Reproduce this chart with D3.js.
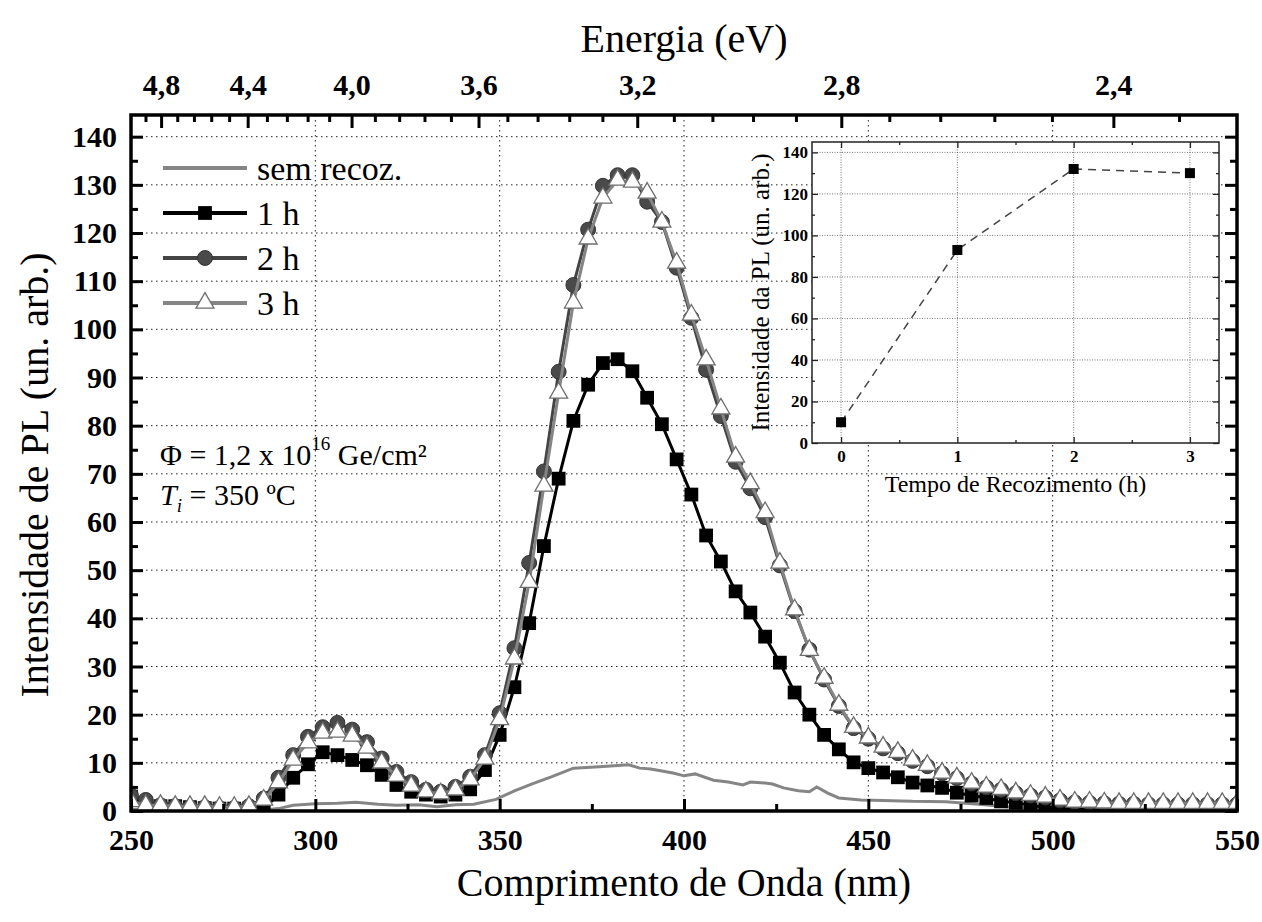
<!DOCTYPE html>
<html>
<head>
<meta charset="utf-8">
<script src="https://cdn.jsdelivr.net/npm/d3@7"></script>
<style>
body { margin: 0; background: #fff; }
text { font-family: "Liberation Serif", "Times New Roman", serif; }
</style>
</head>
<body>
<div id="viz"></div>
<script>
//DATA: wavelengths (nm) of the measured points, every 4 nm
const wavelength = [250, 254, 258, 262, 266, 270, 274, 278, 282, 286, 290, 294, 298, 302, 306, 310, 314, 318, 322, 326,
  330, 334, 338, 342, 346, 350, 354, 358, 362, 366, 370, 374, 378, 382, 386, 390, 394, 398, 402, 406,
  410, 414, 418, 422, 426, 430, 434, 438, 442, 446, 450, 454, 458, 462, 466, 470, 474, 478, 482, 486,
  490, 494, 498, 502, 506, 510, 514, 518, 522, 526, 530, 534, 538, 542, 546, 550];

//PL intensity (un. arb.) for each annealing time
const pl1h = [3.0, 1.5, 1.0, 1.0, 0.8, 0.6, 0.5, 0.5, 0.5, 0.5, 3.4, 6.9, 9.7, 12.2, 11.6, 10.6, 9.5, 7.5, 5.4, 4.0,
  3.4, 3.0, 3.4, 4.5, 8.5, 15.8, 25.7, 39, 55, 69, 81, 88.5, 93, 93.8, 91.3, 85.8, 80.3, 73, 65.7, 57.2,
  51.8, 45.6, 41.2, 36.2, 30.8, 24.6, 20, 15.8, 12.8, 10.1, 8.9, 8.0, 7.0, 5.9, 5.3, 4.8, 3.8, 3.2, 2.7, 2.0,
  1.7, 1.2, 0.8, 0.6, 0.4, 0.3, 0.2, 0.2, 0.1, 0.1, 0.1, 0.1, 0.1, 0.1, 0.1, 0.1];
const pl2h = [3.2, 2.3, 1.2, 1.0, 0.8, 0.8, 0.6, 0.6, 1.0, 2.6, 6.9, 11.6, 15.4, 17.4, 18.3, 16.9, 14.3, 10.9, 8.1, 6.0,
  4.4, 4.0, 5.0, 7.1, 11.6, 20.3, 33.8, 51.5, 70.5, 91.2, 109.2, 120.7, 129.8, 132, 132, 126.5, 122.3, 112.8, 102.4, 91.6,
  82, 72.5, 67, 61, 51, 41.5, 33.5, 27.3, 21.8, 17.2, 15, 13, 12, 10.4, 9.3, 7.8, 6.8, 5.7, 4.9, 4.4,
  3.7, 3.2, 2.8, 2.2, 1.8, 1.7, 1.6, 1.5, 1.5, 1.4, 1.4, 1.4, 1.4, 1.4, 1.4, 1.4];
const pl3h = [2.0, 1.2, 1.2, 1.0, 1.0, 1.0, 0.8, 0.8, 1.0, 2.3, 5.9, 10.6, 14.2, 16.2, 16.4, 15.6, 13.1, 10.0, 7.3, 5.2,
  4.0, 3.6, 4.4, 6.5, 10.8, 19, 31.6, 47.5, 67.5, 86.8, 105.5, 118.8, 127.3, 131, 130.6, 128.3, 122.3, 113.8, 103, 93.7,
  83.5, 73.5, 68, 62, 51.5, 41.8, 33.4, 27.6, 22, 17.4, 15.2, 13.3, 12.2, 10.6, 9.5, 7.9, 6.9, 5.8, 5.0, 4.5,
  3.8, 3.3, 2.9, 2.3, 1.9, 1.9, 1.7, 1.6, 1.6, 1.6, 1.6, 1.6, 1.6, 1.6, 1.6, 1.6];

//"sem recoz." (not annealed) is a plain noisy line, read at its own points
const semWavelength = [250, 286, 290, 294, 300, 306, 311, 317, 322, 328, 333, 338, 343, 349, 354, 359, 364, 370, 377, 385,
  388, 391, 397, 400, 403, 408, 412, 416, 418, 422, 424, 427, 431, 434, 436, 439, 442, 448, 454, 459,
  462, 471, 480, 489, 498, 510, 550];
const semRecoz = [0.3, 0.2, 0.5, 1.2, 1.5, 1.6, 1.8, 1.4, 1.2, 1.3, 0.9, 1.3, 1.4, 2.4, 4.2, 5.7, 7.1, 8.9, 9.2, 9.6,
  8.9, 8.7, 7.9, 7.3, 7.7, 6.4, 6.0, 5.4, 6.0, 5.8, 5.6, 4.8, 4.2, 4.0, 5.0, 3.7, 2.7, 2.3, 2.2, 2.1,
  2.0, 1.9, 1.4, 0.8, 0.4, 0.2, 0.2];

//Inset: peak intensity vs annealing time
const annealTime = [0, 1, 2, 3];
const peakIntensity = [10, 93, 132, 130];

//Tick values
const xTicks = [250, 300, 350, 400, 450, 500, 550];
const xMinorTicks = [275, 325, 375, 425, 475, 525];
const yTicks = [0, 10, 20, 30, 40, 50, 60, 70, 80, 90, 100, 110, 120, 130, 140];
const yMinorTicks = [5, 15, 25, 35, 45, 55, 65, 75, 85, 95, 105, 115, 125, 135];
const energyTicks = [4.8, 4.4, 4.0, 3.6, 3.2, 2.8, 2.4];
const energyMinorTicks = [4.88, 4.72, 4.64, 4.56, 4.48, 4.32, 4.24, 4.16, 4.08, 3.92, 3.84, 3.76, 3.68,
  3.52, 3.44, 3.36, 3.28, 3.12, 3.04, 2.96, 2.88, 2.72, 2.64, 2.56, 2.48, 2.32];
const insetXTicks = [0, 1, 2, 3];
const insetXMinorTicks = [0.5, 1.5, 2.5];
const insetYTicks = [0, 20, 40, 60, 80, 100, 120, 140];
const insetYMinorTicks = [10, 30, 50, 70, 90, 110, 130];

//Legend names
const seriesNames = ["sem recoz.", "1 h", "2 h", "3 h"];

//CANVAS
const W = 1262, H = 922;
const svg = d3.select("#viz").append("svg")
  .attr("width", W)
  .attr("height", H);

//plot frame edges (named pl* so they don't clash with window.top)
const plLeft = 131, plRight = 1237, plTop = 115, plBottom = 811;

const x = d3.scaleLinear().domain([250, 550]).range([plLeft, plRight]);
const y = d3.scaleLinear().domain([0, 144.5]).range([plBottom, plTop]);

//photon energy (eV) -> wavelength (nm)
const eToNm = e => 1239.84 / e;
const commaFmt = d => d3.format(".1f")(d).replace(".", ",");

//GRID (dotted)
const grid = svg.append("g");
grid.selectAll("line.v").data(xTicks.slice(1, -1)).enter().append("line")
  .attr("x1", d => x(d)).attr("x2", d => x(d))
  .attr("y1", plTop).attr("y2", plBottom)
  .attr("stroke", "#222").attr("stroke-width", 1).attr("stroke-dasharray", "1.5,3.5");
grid.selectAll("line.h").data(yTicks.slice(1)).enter().append("line")
  .attr("x1", plLeft).attr("x2", plRight)
  .attr("y1", d => y(d)).attr("y2", d => y(d))
  .attr("stroke", "#222").attr("stroke-width", 1).attr("stroke-dasharray", "1.5,3.5");

//clip the data to the plot frame
svg.append("clipPath").attr("id", "plotClip")
  .append("rect").attr("x", plLeft).attr("y", plTop).attr("width", plRight - plLeft).attr("height", plBottom - plTop);
const plot = svg.append("g").attr("clip-path", "url(#plotClip)");

const line = d3.line().x(d => x(d[0])).y(d => y(d[1]));

//sem recoz.
plot.append("path")
  .datum(semWavelength.map((w, i) => [w, semRecoz[i]]))
  .attr("d", line)
  .attr("fill", "none").attr("stroke", "#858585").attr("stroke-width", 3);

//marker series
const series = [
  { values: pl1h, color: "#000", marker: "square" },
  { values: pl2h, color: "#444", marker: "circle" },
  { values: pl3h, color: "#858585", marker: "triangle" }
];

function drawMarker(g, type) {
  if (type === "square") {
    g.append("path").attr("d", d3.symbol(d3.symbolSquare, 190)()).attr("fill", "#000");
  } else if (type === "circle") {
    g.append("path").attr("d", d3.symbol(d3.symbolCircle, 175)())
      .attr("fill", "#4a4a4a").attr("stroke", "#333").attr("stroke-width", 1);
  } else {
    g.append("path").attr("d", d3.symbol(d3.symbolTriangle, 140)())
      .attr("fill", "#fff").attr("stroke", "#6e6e6e").attr("stroke-width", 1.3);
  }
}

series.forEach(s => {
  const pts = wavelength.map((w, i) => [w, s.values[i]]);
  plot.append("path").datum(pts).attr("d", line)
    .attr("fill", "none").attr("stroke", s.color).attr("stroke-width", 3);
  plot.selectAll(null).data(pts).enter().append("g")
    .attr("transform", d => `translate(${x(d[0])},${y(d[1])})`)
    .each(function() { drawMarker(d3.select(this), s.marker); });
});

//AXES (ticks point inward)
function styleAxis(g) {
  g.select(".domain").remove();
  g.selectAll(".tick line").attr("stroke", "#000").attr("stroke-width", 3);
  g.selectAll("text").attr("font-family", "Liberation Serif").attr("font-weight", "bold")
    .attr("font-size", 30).attr("fill", "#000");
}

svg.append("g").attr("transform", `translate(0,${plBottom})`)
  .call(d3.axisBottom(x).tickValues(xTicks).tickSize(-12).tickPadding(18).tickFormat(d3.format("d")))
  .call(styleAxis);
svg.append("g").attr("transform", `translate(0,${plBottom})`)
  .call(d3.axisBottom(x).tickValues(xMinorTicks).tickSize(-7).tickFormat(""))
  .call(styleAxis);

svg.append("g").attr("transform", `translate(${plLeft},0)`)
  .call(d3.axisLeft(y).tickValues(yTicks).tickSize(-12).tickPadding(14).tickFormat(d3.format("d")))
  .call(styleAxis);
svg.append("g").attr("transform", `translate(${plLeft},0)`)
  .call(d3.axisLeft(y).tickValues(yMinorTicks).tickSize(-7).tickFormat(""))
  .call(styleAxis);

svg.append("g").attr("transform", `translate(${plRight},0)`)
  .call(d3.axisRight(y).tickValues(yTicks).tickSize(-12).tickFormat(""))
  .call(styleAxis);
svg.append("g").attr("transform", `translate(${plRight},0)`)
  .call(d3.axisRight(y).tickValues(yMinorTicks).tickSize(-7).tickFormat(""))
  .call(styleAxis);

//top axis: energy in eV, placed at lambda = 1239.84 / E
const topAxis = svg.append("g");
topAxis.selectAll("line.maj").data(energyTicks).enter().append("line")
  .attr("x1", d => x(eToNm(d))).attr("x2", d => x(eToNm(d)))
  .attr("y1", plTop).attr("y2", plTop + 13)
  .attr("stroke", "#000").attr("stroke-width", 3);
topAxis.selectAll("line.min").data(energyMinorTicks).enter().append("line")
  .attr("x1", d => x(eToNm(d))).attr("x2", d => x(eToNm(d)))
  .attr("y1", plTop).attr("y2", plTop + 7)
  .attr("stroke", "#000").attr("stroke-width", 3);
topAxis.selectAll("text").data(energyTicks).enter().append("text")
  .attr("x", d => x(eToNm(d))).attr("y", 95)
  .attr("text-anchor", "middle").attr("font-weight", "bold").attr("font-size", 30)
  .text(commaFmt);

//frame
svg.append("rect")
  .attr("x", plLeft).attr("y", plTop).attr("width", plRight - plLeft).attr("height", plBottom - plTop)
  .attr("fill", "none").attr("stroke", "#000").attr("stroke-width", 3.5);

//AXIS TITLES
svg.append("text").attr("x", (plLeft + plRight) / 2).attr("y", 52)
  .attr("text-anchor", "middle").attr("font-size", 40).text("Energia (eV)");
svg.append("text").attr("x", (plLeft + plRight) / 2).attr("y", 896)
  .attr("text-anchor", "middle").attr("font-size", 40).text("Comprimento de Onda (nm)");
svg.append("text")
  .attr("transform", `translate(48,${(plTop + plBottom) / 2 + 12}) rotate(-90)`)
  .attr("text-anchor", "middle").attr("font-size", 40).text("Intensidade de PL (un. arb.)");

//LEGEND
const legendTypes = [null, "square", "circle", "triangle"];
const legendColors = ["#858585", "#000", "#444", "#858585"];
seriesNames.forEach((name, i) => {
  const ly = 168 + i * 45;
  svg.append("line").attr("x1", 163).attr("x2", 247).attr("y1", ly).attr("y2", ly)
    .attr("stroke", legendColors[i]).attr("stroke-width", 4);
  if (legendTypes[i]) {
    const g = svg.append("g").attr("transform", `translate(205,${ly})`);
    drawMarker(g, legendTypes[i]);
  }
  svg.append("text").attr("x", 257).attr("y", ly + 12).attr("font-size", 34).text(name);
});

//ANNOTATION
const ann1 = svg.append("text").attr("x", 160).attr("y", 465).attr("font-size", 30);
ann1.append("tspan").text("Φ = 1,2 x 10");
ann1.append("tspan").attr("dy", -15).attr("font-size", 19).text("16");
ann1.append("tspan").attr("dy", 15).text(" Ge/cm²");
const ann2 = svg.append("text").attr("x", 160).attr("y", 505).attr("font-size", 30);
ann2.append("tspan").attr("font-style", "italic").text("T");
ann2.append("tspan").attr("font-style", "italic").attr("font-size", 19).attr("dy", 7).text("i");
ann2.append("tspan").attr("dy", -7).text(" = 350 ºC");

//INSET
const inL = 812, inR = 1219, inT = 142, inB = 443;
const ix = d3.scaleLinear().domain([-0.25, 3.25]).range([inL, inR]);
const iy = d3.scaleLinear().domain([0, 145]).range([inB, inT]);
const inset = svg.append("g");

inset.append("rect").attr("x", inL).attr("y", inT).attr("width", inR - inL).attr("height", inB - inT)
  .attr("fill", "#fff");

inset.selectAll("line.ivg").data(insetXTicks).enter().append("line")
  .attr("x1", d => ix(d)).attr("x2", d => ix(d)).attr("y1", inT).attr("y2", inB)
  .attr("stroke", "#555").attr("stroke-width", 0.8).attr("stroke-dasharray", "1,1.5");
inset.selectAll("line.ihg").data(insetYTicks.slice(1)).enter().append("line")
  .attr("x1", inL).attr("x2", inR).attr("y1", d => iy(d)).attr("y2", d => iy(d))
  .attr("stroke", "#555").attr("stroke-width", 0.8).attr("stroke-dasharray", "1,1.5");

function styleInsetAxis(g) {
  g.select(".domain").remove();
  g.selectAll(".tick line").attr("stroke", "#222").attr("stroke-width", 1.3);
  g.selectAll("text").attr("font-family", "Liberation Serif").attr("font-weight", "bold")
    .attr("font-size", 17).attr("fill", "#000");
}
inset.append("g").attr("transform", `translate(0,${inB})`)
  .call(d3.axisBottom(ix).tickValues(insetXTicks).tickSize(-6).tickPadding(7).tickFormat(d3.format("d")))
  .call(styleInsetAxis);
inset.append("g").attr("transform", `translate(0,${inB})`)
  .call(d3.axisBottom(ix).tickValues(insetXMinorTicks).tickSize(-3).tickFormat(""))
  .call(styleInsetAxis);
inset.append("g").attr("transform", `translate(0,${inT})`)
  .call(d3.axisTop(ix).tickValues(insetXTicks).tickSize(-6).tickFormat(""))
  .call(styleInsetAxis);
inset.append("g").attr("transform", `translate(0,${inT})`)
  .call(d3.axisTop(ix).tickValues(insetXMinorTicks).tickSize(-3).tickFormat(""))
  .call(styleInsetAxis);
inset.append("g").attr("transform", `translate(${inL},0)`)
  .call(d3.axisLeft(iy).tickValues(insetYTicks).tickSize(-6).tickPadding(4).tickFormat(d3.format("d")))
  .call(styleInsetAxis);
inset.append("g").attr("transform", `translate(${inL},0)`)
  .call(d3.axisLeft(iy).tickValues(insetYMinorTicks).tickSize(-3).tickFormat(""))
  .call(styleInsetAxis);
inset.append("g").attr("transform", `translate(${inR},0)`)
  .call(d3.axisRight(iy).tickValues(insetYTicks).tickSize(-6).tickFormat(""))
  .call(styleInsetAxis);
inset.append("g").attr("transform", `translate(${inR},0)`)
  .call(d3.axisRight(iy).tickValues(insetYMinorTicks).tickSize(-3).tickFormat(""))
  .call(styleInsetAxis);

inset.append("rect").attr("x", inL).attr("y", inT).attr("width", inR - inL).attr("height", inB - inT)
  .attr("fill", "none").attr("stroke", "#222").attr("stroke-width", 1.5);

const insetPts = annealTime.map((t, i) => [t, peakIntensity[i]]);
inset.append("path").datum(insetPts)
  .attr("d", d3.line().x(d => ix(d[0])).y(d => iy(d[1])))
  .attr("fill", "none").attr("stroke", "#444").attr("stroke-width", 1.5).attr("stroke-dasharray", "8,6");
inset.selectAll("rect.pt").data(insetPts).enter().append("rect")
  .attr("x", d => ix(d[0]) - 5).attr("y", d => iy(d[1]) - 5)
  .attr("width", 10).attr("height", 10).attr("fill", "#000");

inset.append("text").attr("x", ix(1.5)).attr("y", 492)
  .attr("text-anchor", "middle").attr("font-size", 24).text("Tempo de Recozimento (h)");
inset.append("text")
  .attr("transform", `translate(769,${(inT + inB) / 2}) rotate(-90)`)
  .attr("text-anchor", "middle").attr("font-size", 25).text("Intensidade da PL (un. arb.)");
</script>
</body>
</html>
